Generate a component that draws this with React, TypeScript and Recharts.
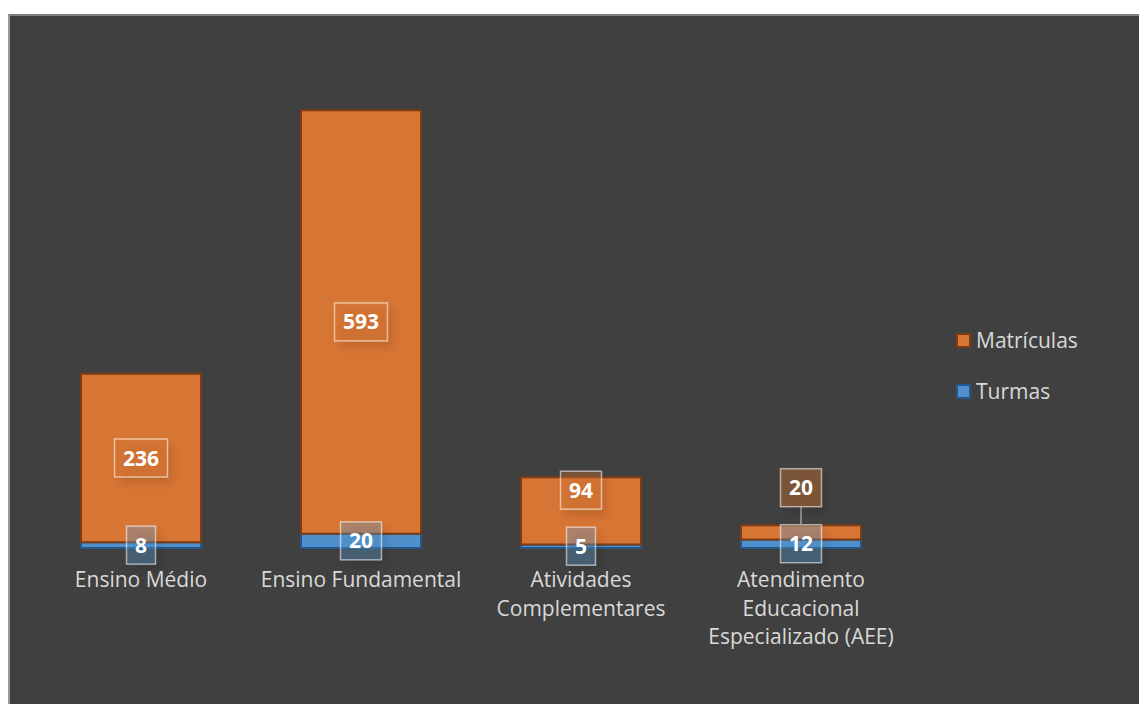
import { BarChart, Bar, XAxis, YAxis, LabelList } from 'recharts';

const categories = [
  'Ensino Médio',
  'Ensino Fundamental',
  'Atividades Complementares',
  'Atendimento Educacional Especializado (AEE)',
];
const tickLines = [
  ['Ensino Médio'],
  ['Ensino Fundamental'],
  ['Atividades', 'Complementares'],
  ['Atendimento', 'Educacional', 'Especializado (AEE)'],
];
const turmas = [8, 20, 5, 12];
const matriculas = [236, 593, 94, 20];

const data = categories.map((name, i) => ({ name, turmas: turmas[i], matriculas: matriculas[i] }));

const ORANGE = '#D77534';
const ORANGE_EDGE = '#7E3A10';
const BLUE = '#4F8FCB';
const BLUE_EDGE = '#24588A';
const TEXT = '#D9D9D9';
const FONT = '"Open Sans", sans-serif';

const LabelBox = ({ cx, cy, value, fill, id }: any) => {
  const w = String(value).length * 12 + 17;
  const h = 38;
  return (
    <g>
      <defs>
        <filter id={id} x="-50%" y="-50%" width="200%" height="200%">
          <feDropShadow dx="5" dy="6" stdDeviation="5" floodColor="#000" floodOpacity="0.35" />
        </filter>
      </defs>
      <rect x={cx - w / 2} y={cy - h / 2} width={w} height={h} fill={fill} filter={`url(#${id})`} />
      <rect x={cx - w / 2} y={cy - h / 2} width={w} height={h} fill="none" stroke="rgba(255,255,255,0.55)" strokeWidth={1.5} />
      <text x={cx} y={cy + 7.5} textAnchor="middle" fill="#fff" fontFamily={FONT} fontWeight={700} fontSize={21}>
        {value}
      </text>
    </g>
  );
};

const TurmaLabel = (props: any) => {
  const x = Number(props.x), y = Number(props.y), width = Number(props.width), height = Number(props.height);
  return (
    <LabelBox cx={x + width / 2} cy={y + height / 2} value={props.value} fill="rgba(91,155,213,0.32)" id={`sh-t-${props.index}`} />
  );
};

const MatLabel = (props: any) => {
  const x = Number(props.x), y = Number(props.y), width = Number(props.width), height = Number(props.height);
  const { value, index } = props;
  const perUnit = height / value;
  const tCenter = y + height + (turmas[index] * perUnit) / 2;
  const cx = x + width / 2;
  const cy = Math.min(y + height / 2, tCenter - 56);
  const outside = cy + 19 < y;
  return (
    <g>
      {outside && <line x1={cx} y1={cy + 19} x2={cx} y2={y} stroke="#A6A6A6" strokeWidth={1.5} />}
      <LabelBox cx={cx} cy={cy} value={value} fill={outside ? 'rgba(214,117,52,0.38)' : 'rgba(214,117,52,0.35)'} id={`sh-m-${index}`} />
    </g>
  );
};

const CategoryTick = (props: any) => {
  const { x, y, payload } = props;
  const idx = categories.indexOf(payload.value);
  const lines = tickLines[idx] || [payload.value];
  return (
    <text x={x} y={y} textAnchor="middle" fill={TEXT} fontFamily={FONT} fontSize={21}>
      {lines.map((l, i) => (
        <tspan key={i} x={x} dy={i === 0 ? 31 : 28.5}>
          {l}
        </tspan>
      ))}
    </text>
  );
};

const legendItems = [
  { name: 'Matrículas', fill: ORANGE, edge: ORANGE_EDGE },
  { name: 'Turmas', fill: BLUE, edge: BLUE_EDGE },
];

export default function App() {
  return (
    <div
      style={{
        position: 'absolute',
        left: 8,
        top: 14,
        width: 1131,
        height: 690,
        background: '#404040',
        boxSizing: 'border-box',
        borderTop: '2px solid #7F7F7F',
        borderLeft: '2px solid #9A9A9A',
      }}
    >
      <div style={{ position: 'absolute', left: -2, top: -2 }}>
        <BarChart width={1131} height={690} data={data} margin={{ top: 34, right: 228, left: 23, bottom: 0 }}>
          <XAxis dataKey="name" axisLine={false} tickLine={false} interval={0} height={156} tick={<CategoryTick />} />
          <YAxis hide domain={[0, 700]} />
          <Bar dataKey="turmas" name="Turmas" stackId="a" barSize={120} fill={BLUE} stroke={BLUE_EDGE} strokeWidth={2} isAnimationActive={false}>
            <LabelList dataKey="turmas" content={<TurmaLabel />} />
          </Bar>
          <Bar dataKey="matriculas" name="Matrículas" stackId="a" barSize={120} fill={ORANGE} stroke={ORANGE_EDGE} strokeWidth={2} isAnimationActive={false}>
            <LabelList dataKey="matriculas" content={<MatLabel />} />
          </Bar>
        </BarChart>
      </div>
      <div style={{ position: 'absolute', left: 946, top: 309, fontFamily: FONT, fontSize: 21, color: TEXT }}>
        {legendItems.map((it) => (
          <div key={it.name} style={{ display: 'flex', alignItems: 'center', height: 30, marginBottom: 21 }}>
            <span
              style={{
                display: 'inline-block',
                width: 11,
                height: 11,
                background: it.fill,
                border: `2px solid ${it.edge}`,
                marginRight: 5,
              }}
            />
            {it.name}
          </div>
        ))}
      </div>
    </div>
  );
}
